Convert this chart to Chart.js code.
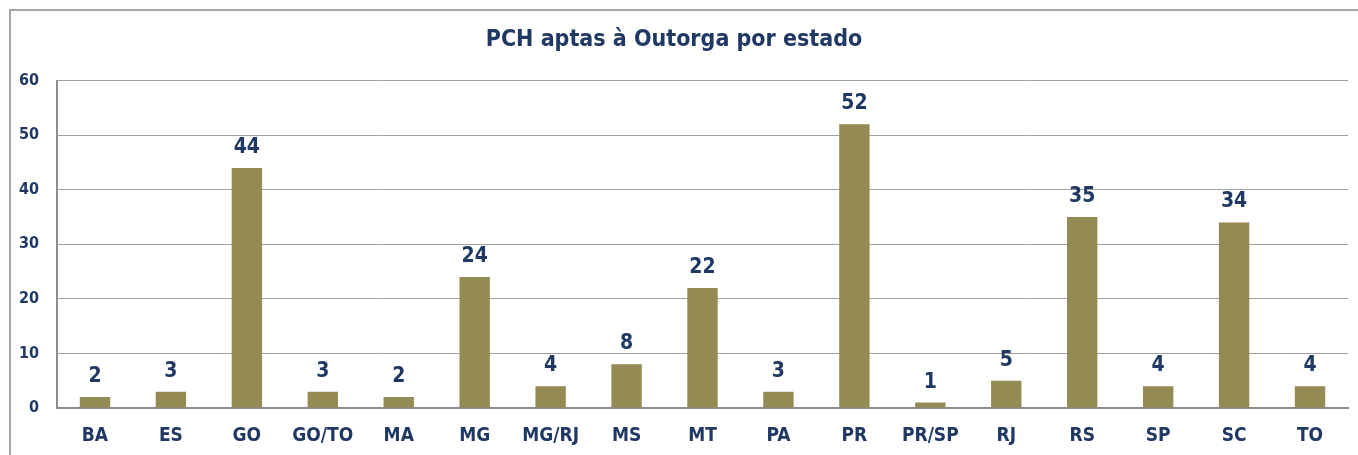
<!DOCTYPE html>
<html>
<head>
<meta charset="utf-8">
<script src="https://cdn.jsdelivr.net/npm/chart.js@4/dist/chart.umd.min.js"></script>
<style>
html,body{margin:0;padding:0;background:#fff;}
#wrap{position:relative;width:1358px;height:455px;}
</style>
</head>
<body>
<div id="wrap"><canvas id="c" width="1358" height="455"></canvas></div>
<script>
const categories = ["BA","ES","GO","GO/TO","MA","MG","MG/RJ","MS","MT","PA","PR","PR/SP","RJ","RS","SP","SC","TO"];
const values = [2,3,44,3,2,24,4,8,22,3,52,1,5,35,4,34,4];
const yTicks = [0,10,20,30,40,50,60];
const chartTitle = "PCH aptas à Outorga por estado";

const FONT = "'Liberation Sans Narrow','Arial Narrow','DejaVu Sans Condensed',sans-serif";
const NAVY = "#1F3864";

const frame = {
  id: 'frame',
  beforeDraw(chart){
    const ctx = chart.ctx;
    ctx.save();
    ctx.strokeStyle = '#a6a6a6';
    ctx.lineWidth = 2;
    ctx.beginPath();
    ctx.moveTo(10, 455);
    ctx.lineTo(10, 10);
    ctx.lineTo(1358, 10);
    ctx.stroke();
    ctx.restore();
  }
};

const labelsPlugin = {
  id: 'valueLabels',
  afterDatasetsDraw(chart){
    const ctx = chart.ctx;
    const meta = chart.getDatasetMeta(0);
    ctx.save();
    ctx.fillStyle = NAVY;
    ctx.font = "bold 21px " + FONT;
    ctx.textAlign = 'center';
    ctx.textBaseline = 'alphabetic';
    meta.data.forEach((bar, i) => {
      ctx.fillText(String(values[i]), bar.x, bar.y - 15);
    });
    ctx.restore();
  }
};

new Chart(document.getElementById('c'), {
  type: 'bar',
  data: {
    labels: categories,
    datasets: [{
      data: values,
      backgroundColor: '#948A54',
      borderWidth: 0,
      barPercentage: 0.4,
      categoryPercentage: 1.0
    }]
  },
  options: {
    responsive: false,
    animation: false,
    layout: { padding: { top: 0, right: 10, bottom: 0, left: 0 } },
    plugins: {
      legend: { display: false },
      tooltip: { enabled: false },
      title: {
        display: true,
        text: chartTitle,
        color: NAVY,
        font: { family: FONT, size: 23, weight: 'bold', lineHeight: 1.2 },
        padding: { top: 26, bottom: 27 }
      }
    },
    scales: {
      x: {
        grid: { display: false, drawTicks: false },
        border: { display: true, color: '#8c8c8c', width: 2 },
        ticks: {
          color: NAVY,
          font: { family: FONT, size: 19, weight: 'bold' },
          padding: 17,
          maxRotation: 0,
          autoSkip: false
        },
        afterFit(scale){ scale.height = 47; }
      },
      y: {
        min: 0,
        max: 60,
        afterBuildTicks(scale){ scale.ticks = yTicks.map(v => ({ value: v })); },
        grid: { color: '#a0a0a0', lineWidth: 1, drawTicks: false },
        border: { display: true, color: '#8c8c8c', width: 2 },
        ticks: {
          color: NAVY,
          font: { family: FONT, size: 16, weight: 'bold' },
          padding: 18
        },
        afterFit(scale){ scale.width = 57; }
      }
    }
  },
  plugins: [frame, labelsPlugin]
});
</script>
</body>
</html>
